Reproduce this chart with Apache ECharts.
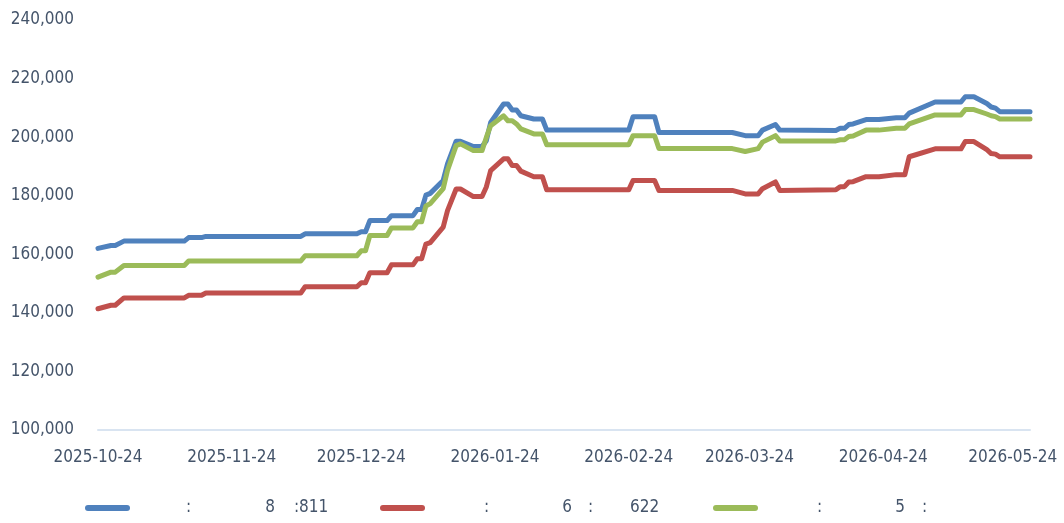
<!DOCTYPE html>
<html>
<head>
<meta charset="utf-8">
<title>chart</title>
<script src="https://cdn.jsdelivr.net/npm/echarts@6/dist/echarts.min.js"></script>
<style>
  html, body { margin: 0; padding: 0; background: #fff; }
  #main { width: 1064px; height: 523px; }
</style>
</head>
<body>
<div id="main"></div>
<script>
// 数据（从图上读取的拐点）
var dates = [
  '2025-10-24','2025-10-27','2025-10-28','2025-10-30','2025-11-13','2025-11-14','2025-11-17','2025-11-18',
  '2025-12-10','2025-12-11','2025-12-23','2025-12-24','2025-12-25','2025-12-26','2025-12-30','2025-12-31',
  '2026-01-05','2026-01-06','2026-01-07','2026-01-08','2026-01-09','2026-01-12','2026-01-13','2026-01-15',
  '2026-01-16','2026-01-19','2026-01-21','2026-01-22','2026-01-23','2026-01-26','2026-01-27','2026-01-28',
  '2026-01-29','2026-01-30','2026-02-02','2026-02-04','2026-02-05','2026-02-24','2026-02-25','2026-03-02',
  '2026-03-03','2026-03-20','2026-03-23','2026-03-26','2026-03-27','2026-03-30','2026-03-31','2026-04-13',
  '2026-04-14','2026-04-15','2026-04-16','2026-04-17','2026-04-20','2026-04-23','2026-04-27','2026-04-29',
  '2026-04-30','2026-05-06','2026-05-11','2026-05-12','2026-05-13','2026-05-15','2026-05-18','2026-05-19',
  '2026-05-20','2026-05-21','2026-05-28'
];
var blue = [
  162000,163000,163000,164500,164500,165700,165700,166100,
  166100,167000,167000,167700,167700,171500,171500,173200,
  173200,175300,175300,180200,180800,185200,190900,198600,
  198600,196800,196800,198800,205000,211300,211300,209300,
  209300,207300,206200,206200,202400,202400,207000,207000,
  201600,201600,200500,200500,202400,204300,202400,202300,
  203000,203000,204300,204500,206000,206000,206600,206600,
  208200,212000,212000,212000,213800,213800,211500,210300,
  209900,208700,208700
];
var red = [
  141400,142600,142600,145100,145100,146000,146000,146800,
  146800,148900,148900,150300,150300,153700,153700,156400,
  156400,158500,158500,163500,164000,169300,174900,182300,
  182300,179700,179700,183000,188600,192600,192600,190300,
  190300,188400,186500,186500,182000,182000,185200,185200,
  181800,181800,180600,180600,182400,184700,181800,182000,
  183100,183100,184700,184800,186500,186500,187200,187200,
  193300,196000,196000,196000,198500,198500,195700,194400,
  194200,193300,193300
];
var green = [
  152200,153900,153900,156200,156200,157700,157700,157700,
  157700,159500,159500,161200,161200,166400,166400,169000,
  169000,171100,171100,176500,177300,182400,188600,197100,
  197700,195400,195400,199900,203900,207300,205600,205600,
  204500,202800,201100,201100,197400,197400,200500,200500,
  196100,196100,195100,196100,198300,200500,198700,198700,
  199100,199100,200200,200400,202400,202400,203000,203000,
  204500,207600,207600,207600,209400,209400,207900,207300,
  207000,206200,206200
];
var xTickLabels = ['2025-10-24','2025-11-24','2025-12-24','2026-01-24','2026-02-24','2026-03-24','2026-04-24','2026-05-24'];
var seriesNames = [':8:811', ':6:622', ':5:'];
var legendTexts = [[':', '8', ':811'], [':', '6', ':', '622'], [':', '5', ':']];
var colors = ['#4f81bd', '#c0504d', '#9bbb59'];

// 日期轴：逐日
var days = [];
var t = Date.UTC(2025, 9, 24), tEnd = Date.UTC(2026, 4, 28);
while (t <= tEnd) {
  days.push(new Date(t).toISOString().slice(0, 10));
  t += 86400000;
}

var font = "'DejaVu Sans Condensed', 'Liberation Sans', sans-serif";
var fsize = 17;
var txtColor = '#44546a';

function pairs(vals) {
  return dates.map(function (d, i) { return [d, vals[i]]; });
}

// 图例：文字位置
var legendLeft = [85, 380, 713];
var legendPads = [[51, 74, 19], [54, 73, 16, 37], [54, 73, 17]];

var legends = seriesNames.map(function (nm, k) {
  var rich = {};
  var str = '';
  legendTexts[k].forEach(function (s, j) {
    rich['p' + j] = { padding: [0, 0, 0, legendPads[k][j]], fontFamily: font, fontSize: fsize, color: txtColor };
    str += '{p' + j + '|' + s + '}';
  });
  return {
    data: [nm],
    left: legendLeft[k],
    top: 498,
    padding: 0,
    itemWidth: 45,
    itemHeight: 6,
    itemGap: 0,
    icon: 'path://M3,0 H42 A3,3 0 0 1 42,6 H3 A3,3 0 0 1 3,0 Z',
    formatter: function () { return str; },
    textStyle: { rich: rich, fontFamily: font, fontSize: fsize, color: txtColor, lineHeight: 20 }
  };
});

var chart = echarts.init(document.getElementById('main'));
chart.setOption({
  animation: false,
  color: colors,
  legend: legends,
  grid: { left: 98, right: 34, top: 20, bottom: 93 },
  xAxis: {
    type: 'category',
    data: days,
    boundaryGap: false,
    axisLine: { lineStyle: { color: '#d9e4f1', width: 2 } },
    axisTick: { show: false },
    axisLabel: {
      interval: function (i, v) { return xTickLabels.indexOf(v) >= 0; },
      fontFamily: font, fontSize: fsize, color: txtColor, margin: 19
    },
    splitLine: { show: false }
  },
  yAxis: {
    type: 'value',
    min: 100000,
    max: 240000,
    interval: 20000,
    axisLine: { show: false },
    axisTick: { show: false },
    splitLine: { show: false },
    axisLabel: {
      fontFamily: font, fontSize: fsize, color: txtColor, margin: 24,
      formatter: function (v) { return v.toLocaleString('en-US'); }
    }
  },
  series: [blue, red, green].map(function (vals, k) {
    return {
      name: seriesNames[k],
      type: 'line',
      data: pairs(vals),
      showSymbol: false,
      lineStyle: { width: 5, cap: 'round', join: 'round' }
    };
  })
});
</script>
</body>
</html>
